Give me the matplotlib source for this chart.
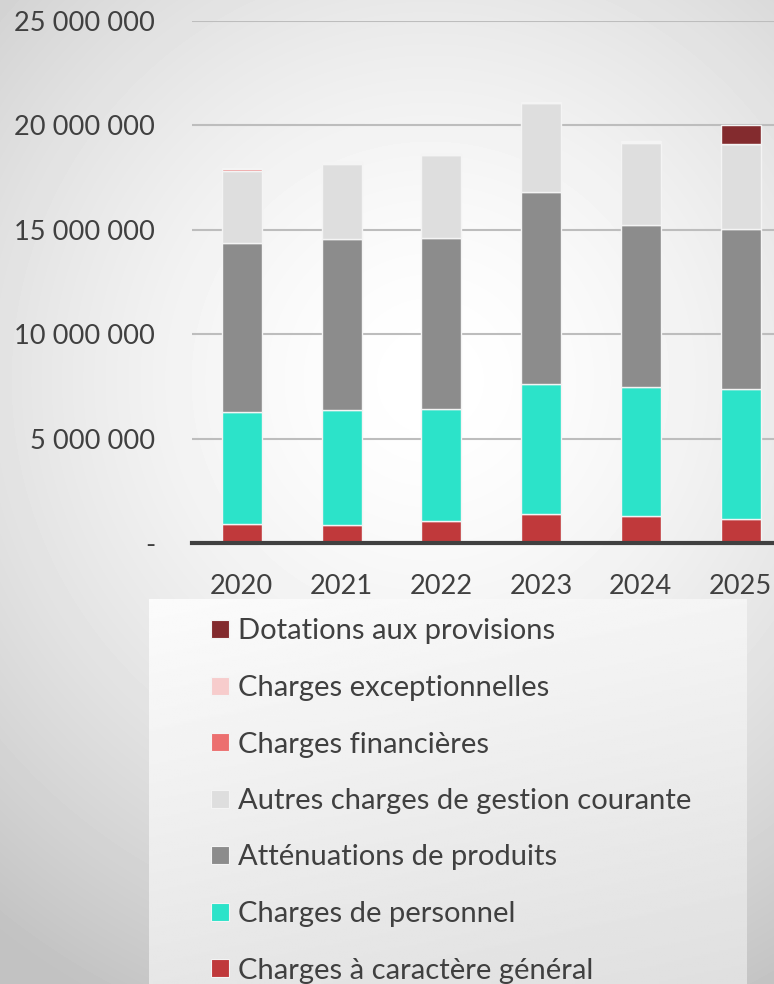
import numpy as np
import matplotlib
matplotlib.use("Agg")
import matplotlib.pyplot as plt
from matplotlib.patches import Rectangle
from matplotlib.ticker import FuncFormatter

plt.rcParams['font.family'] = ['Lato', 'DejaVu Sans']

years = ["2020", "2021", "2022", "2023", "2024", "2025"]

# values in euros (bottom to top of the stack)
charges_general = [900000, 860000, 1050000, 1400000, 1310000, 1150000]
charges_personnel = [5360000, 5530000, 5380000, 6200000, 6180000, 6230000]
attenuations = [8110000, 8150000, 8160000, 9210000, 7760000, 7660000]
autres_charges = [3460000, 3630000, 3980000, 4250000, 3920000, 4050000]
charges_financieres = [80000, 20000, 20000, 20000, 20000, 10000]
charges_exceptionnelles = [30000, 40000, 40000, 50000, 50000, 30000]
dotations = [0, 0, 0, 0, 0, 880000]

series = [
    ("Charges à caractère général", charges_general, "#c0393b"),
    ("Charges de personnel", charges_personnel, "#2ce3c9"),
    ("Atténuations de produits", attenuations, "#8c8c8c"),
    ("Autres charges de gestion courante", autres_charges, "#dedede"),
    ("Charges financières", charges_financieres, "#ec6f6f"),
    ("Charges exceptionnelles", charges_exceptionnelles, "#f7cccc"),
    ("Dotations aux provisions", dotations, "#832b2e"),
]

W, H = 774, 984
fig = plt.figure(figsize=(W / 100, H / 100), dpi=100)

# radial grey background
bg = fig.add_axes([0, 0, 1, 1], zorder=-2)
yy, xx = np.mgrid[0:H, 0:W]
r = np.sqrt((xx - 430) ** 2 + (yy - 380) ** 2) / 700.0
val = 1.0 - 0.24 * np.clip(r, 0, 1) ** 1.6
bg.imshow(val, cmap="gray", vmin=0, vmax=1, aspect="auto", extent=[0, W, H, 0])
bg.set_axis_off()

# legend box with its own linear gradient
lx0, ly0, lx1, ly1 = 149, 599, 747, 984
lg = fig.add_axes([lx0 / W, 1 - ly1 / H, (lx1 - lx0) / W, (ly1 - ly0) / H], zorder=-1)
gy, gx = np.mgrid[0:200, 0:200] / 199.0
lval = 0.985 - 0.11 * (0.75 * gy + 0.25 * gx)
lg.imshow(lval, cmap="gray", vmin=0, vmax=1, aspect="auto")
lg.set_axis_off()

ax = fig.add_axes([192 / W, 1 - 543 / H, 1 - 192 / W, (543 - 21) / H])
ax.patch.set_alpha(0)

x = np.arange(len(years))
bottom = np.zeros(len(years))
for name, vals, col in series:
    vals = np.array(vals, dtype=float)
    ax.bar(x, vals, 0.4, bottom=bottom, color=col, edgecolor="#f4f4f4",
           linewidth=1.0, zorder=3, label=name)
    bottom += vals

ax.set_xlim(-0.5, 5.335)
ax.set_ylim(0, 25000000)
ax.set_yticks(np.arange(0, 25000001, 5000000))


def fmt(v, pos):
    if v == 0:
        return "-"
    return "{:,.0f}".format(v).replace(",", " ")


ax.yaxis.set_major_formatter(FuncFormatter(fmt))
ax.grid(axis="y", color="#bdbdbd", linewidth=1.5, zorder=0)
ax.set_axisbelow(True)
for s in ["top", "right", "left"]:
    ax.spines[s].set_visible(False)
ax.spines["bottom"].set_color("#404040")
ax.spines["bottom"].set_linewidth(3)
ax.spines["bottom"].set_zorder(4)
ax.tick_params(axis="both", length=0, labelsize=19.6, colors="#404040")
ax.tick_params(axis="y", pad=26.5)
ax.tick_params(axis="x", pad=22)
ax.set_xticks(x)
ax.set_xticklabels(years)

# legend, drawn by hand: newest series on top
for i, (name, _, col) in enumerate(series[::-1]):
    yc = 629 + i * 56.5
    fig.patches.append(Rectangle((211 / W, 1 - (yc + 9) / H), 18 / W, 18 / H,
                                 transform=fig.transFigure, facecolor=col,
                                 edgecolor="#f4f4f4", linewidth=0.8))
    fig.text(238 / W, 1 - yc / H, name, fontsize=21, color="#404040",
             va="center_baseline", ha="left")

fig.savefig("out.png", dpi=100)
